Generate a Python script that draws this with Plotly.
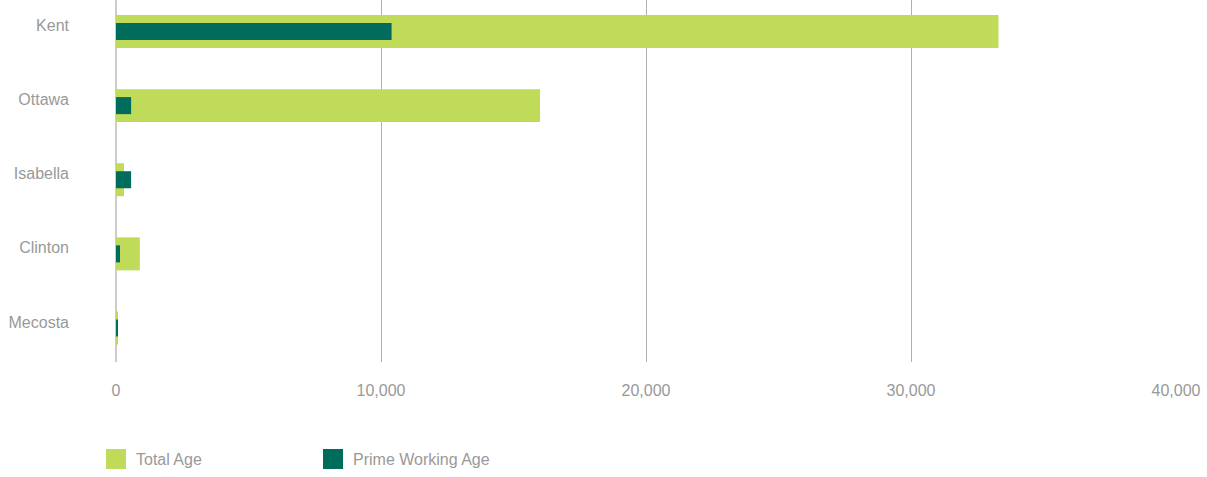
import plotly.graph_objects as go

counties = ["Kent", "Ottawa", "Isabella", "Clinton", "Mecosta"]
total_age = [33300, 16000, 300, 900, 40]
prime_working_age = [10400, 570, 570, 150, 40]
x_ticks = [0, 10000, 20000, 30000, 40000]
series_names = ["Total Age", "Prime Working Age"]

LIGHT = "#C0DA5A"
DARK = "#006C5C"
TEXT = "#999999"
W, H = 1207, 477
L, R, T, B = 116, 31, 0, 115
FS = 16

fig = go.Figure()
fig.add_trace(go.Bar(y=counties, x=total_age, orientation="h", name=series_names[0],
                     marker=dict(color=LIGHT, line=dict(width=0)), width=0.445, showlegend=False))
fig.add_trace(go.Bar(y=counties, x=prime_working_age, orientation="h", name=series_names[1],
                     marker=dict(color=DARK, line=dict(width=0)), width=0.23, showlegend=False))

fig.update_layout(
    width=W, height=H, barmode="overlay",
    margin=dict(l=L, r=R, t=T, b=B),
    plot_bgcolor="white", paper_bgcolor="white",
    font=dict(family="Liberation Sans, Arial, sans-serif", size=FS, color=TEXT),
    xaxis=dict(range=[0, 40000], tickvals=x_ticks, tickformat=",d", showgrid=True,
               gridcolor="#b0b0b0", gridwidth=1, zeroline=True, zerolinecolor="#cccccc",
               zerolinewidth=2, showline=False, ticks="", ticklabelstandoff=17,
               tickfont=dict(size=FS, color=TEXT)),
    yaxis=dict(range=[4.459, -0.425], showgrid=False, zeroline=False, showline=False,
               ticks="", ticklabelstandoff=46, ticklabelshift=6,
               tickfont=dict(size=FS, color=TEXT)),
)

plot_h = H - T - B
plot_w = W - L - R

def px_x(p):
    return (p - L) / plot_w

def px_y(p):
    return (H - B - p) / plot_h

legend_items = [(106, LIGHT, series_names[0]), (323, DARK, series_names[1])]
for x0, col, name in legend_items:
    fig.add_shape(type="rect", xref="paper", yref="paper",
                  x0=px_x(x0), x1=px_x(x0 + 20), y0=px_y(469), y1=px_y(449),
                  fillcolor=col, line=dict(width=0))
    fig.add_annotation(xref="paper", yref="paper", x=px_x(x0 + 28), y=px_y(459),
                       text=name, showarrow=False, xanchor="left", yanchor="middle",
                       font=dict(size=FS, color=TEXT))

fig.write_html("out.html")
